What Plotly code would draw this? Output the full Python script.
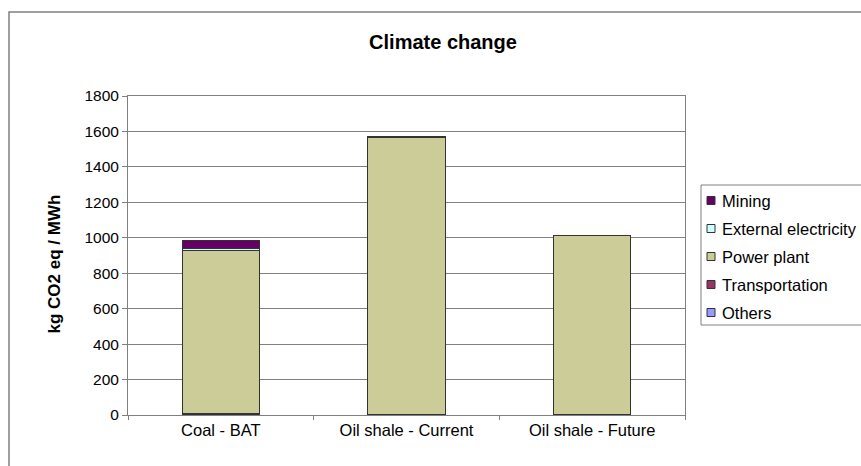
import plotly.graph_objects as go

categories = ["Coal - BAT", "Oil shale - Current", "Oil shale - Future"]
others = [2, 1, 1]
transportation = [8, 2, 2]
power_plant = [917, 1565, 1008]
external_electricity = [15, 3, 0]
mining = [45, 0, 0]

y_ticks = list(range(0, 1801, 200))

# bottom-to-top stacking order
series = [
    ("Others", others, "#9999FF"),
    ("Transportation", transportation, "#993366"),
    ("Power plant", power_plant, "#CCCC99"),
    ("External electricity", external_electricity, "#CCFFFF"),
    ("Mining", mining, "#660066"),
]

W, H = 861, 466
L, R, T, B = 128, 685, 96, 415   # plot area in pixels


def px_x(px):
    return (px - L) / (R - L)


def px_y(py):
    return (B - py) / (B - T)


font_family = "Liberation Sans, Arial, sans-serif"

fig = go.Figure()
for name, vals, color in series:
    fig.add_trace(go.Bar(
        x=categories, y=vals, name=name,
        marker=dict(color=color, line=dict(color="#333333", width=1)),
        width=0.415, showlegend=False,
    ))

# legend drawn as a boxed list, top entry = top of stack
shapes = [
    dict(type="rect", xref="paper", yref="paper",
         x0=px_x(9), x1=2.0, y0=-0.5, y1=px_y(12),
         line=dict(color="#808080", width=1.5), layer="below"),
    dict(type="rect", xref="paper", yref="paper",
         x0=px_x(701), x1=px_x(900), y0=px_y(325), y1=px_y(185),
         line=dict(color="#808080", width=1), fillcolor="white"),
]
annotations = [
    dict(text="<b>kg CO2 eq / MWh</b>", xref="paper", yref="paper",
         x=px_x(42), y=px_y(264), textangle=-90, showarrow=False,
         font=dict(size=17, family=font_family)),
]
for i, (name, vals, color) in enumerate(reversed(series)):
    cy = 200.5 + 28 * i
    shapes.append(dict(
        type="rect", xref="paper", yref="paper",
        x0=px_x(707), x1=px_x(715), y0=px_y(cy + 4), y1=px_y(cy - 4),
        line=dict(color="#333333", width=1), fillcolor=color))
    annotations.append(dict(
        text=name, xref="paper", yref="paper", x=px_x(720), y=px_y(cy),
        xanchor="left", yanchor="middle", showarrow=False,
        font=dict(size=16.5, family=font_family)))

fig.update_layout(
    width=W, height=H,
    barmode="stack",
    paper_bgcolor="white", plot_bgcolor="white",
    margin=dict(l=L, r=W - R, t=T, b=H - B),
    font=dict(family=font_family, size=15, color="#000000"),
    title=dict(text="<b>Climate change</b>", x=443 / W, xanchor="center",
               xref="container", y=1 - 42 / H, yanchor="middle", yref="container",
               font=dict(size=20, family=font_family)),
    xaxis=dict(
        type="category", tickson="boundaries", ticks="outside", ticklen=4,
        tickcolor="#808080", showline=True, linecolor="#808080", linewidth=1,
        mirror=True, showgrid=False, tickfont=dict(size=16.5),
    ),
    yaxis=dict(
        range=[0, 1800], tickvals=y_ticks, ticks="outside", ticklen=5,
        tickcolor="#808080", showline=True, linecolor="#808080", linewidth=1,
        mirror=True, showgrid=True, gridcolor="#808080", gridwidth=1,
        zeroline=False, tickfont=dict(size=15.5),
    ),
    shapes=shapes,
    annotations=annotations,
)

fig.write_html("out.html")
